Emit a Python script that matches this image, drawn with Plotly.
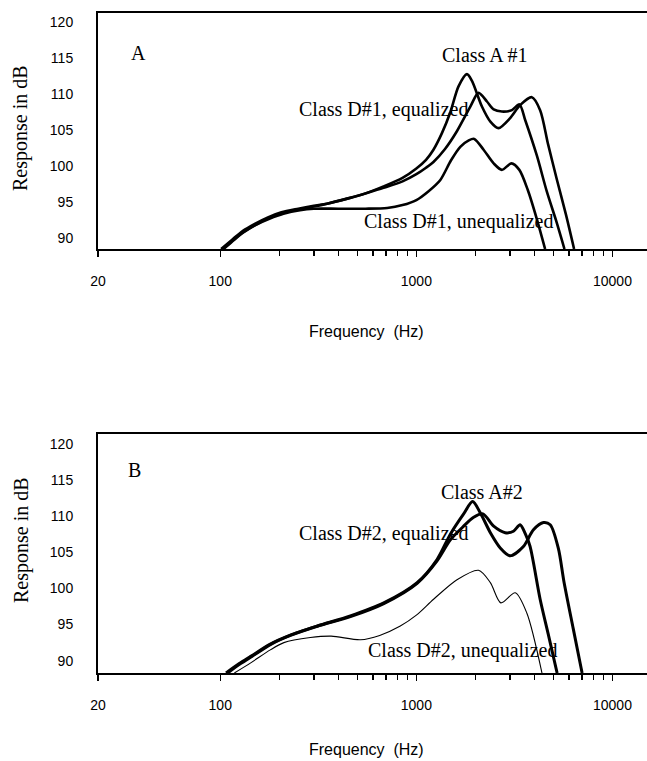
import plotly.graph_objects as go
from plotly.subplots import make_subplots
import math

# ---------------- Data: panel A ----------------
a1_freq = [101, 115, 130, 150, 175, 205, 250, 300, 350, 444, 560, 680, 850, 1000, 1120, 1222, 1350, 1490, 1640, 1811,
           1918, 2159, 2384, 2623, 3008, 3381, 3880, 4276, 4700, 5200, 5800, 6370]
a1_db = [88.5, 89.8, 91.0, 92.0, 92.9, 93.6, 94.1, 94.5, 94.8, 95.5, 96.3, 97.2, 98.4, 99.7, 100.9, 102.3, 104.6, 107.5, 111.1, 112.8,
         111.9, 108.3, 106.2, 105.3, 106.7, 108.5, 109.6, 107.8, 103.0, 98.2, 93.2, 88.5]

d1_eq_freq = [103, 117, 132, 152, 177, 208, 252, 300, 350, 444, 560, 680, 850, 1000, 1120, 1222, 1400, 1612, 1884,
              2075, 2290, 2478, 2729, 3070, 3355, 3591, 4113, 4624, 5150, 5690]
d1_eq_db = [88.5, 89.8, 90.9, 91.9, 92.8, 93.5, 94.0, 94.4, 94.8, 95.5, 96.3, 97.0, 97.9, 98.9, 99.8, 100.6, 102.4, 104.9, 108.3,
            110.2, 109.0, 107.9, 107.6, 107.8, 108.6, 106.4, 101.5, 96.5, 92.5, 88.5]

d1_un_freq = [104, 118, 133, 153, 178, 210, 255, 300, 400, 550, 710, 850, 1000, 1150, 1325, 1500, 1675, 1850,
              1972, 2202, 2478, 2729, 3052, 3350, 3700, 4100, 4534]
d1_un_db = [88.5, 89.8, 90.9, 91.9, 92.7, 93.4, 93.9, 94.1, 94.1, 94.1, 94.2, 94.6, 95.3, 96.5, 98.1, 100.8, 102.7, 103.6,
            103.8, 102.3, 100.4, 99.5, 100.4, 99.5, 96.7, 92.8, 88.5]

# ---------------- Data: panel B ----------------
a2_freq = [107, 125, 143, 180, 226, 313, 461, 682, 1009, 1275, 1490, 1742, 1935, 2123, 2384, 2677, 3006,
           3514, 3953, 4446, 4813, 5300, 5650, 6300, 7000]
a2_db = [88.3, 89.6, 90.6, 92.3, 93.5, 94.8, 96.2, 98.0, 100.8, 104.0, 107.5, 110.3, 112.0, 110.4, 107.7, 105.6, 104.5,
         105.8, 108.1, 109.1, 108.8, 105.5, 101.0, 94.5, 88.3]

d2_eq_freq = [109, 127, 145, 182, 228, 315, 461, 682, 1009, 1275, 1490, 1742, 1950, 2185, 2478, 2838, 3126,
              3381, 3600, 3800, 4276, 4700, 5220]
d2_eq_db = [88.3, 89.6, 90.6, 92.3, 93.5, 94.8, 96.1, 97.9, 100.7, 103.8, 106.7, 108.6, 109.8, 110.3, 108.6, 107.7, 107.9,
            108.8, 107.5, 105.8, 98.5, 93.7, 88.3]

d2_un_freq = [118, 143, 180, 211, 288, 368, 519, 650, 828, 1000, 1224, 1611, 2075, 2384, 2697, 3192, 3657, 4370]
d2_un_db = [88.3, 89.7, 91.5, 92.5, 93.2, 93.4, 92.9, 93.5, 94.8, 96.3, 98.5, 101.2, 102.5, 100.8, 98.0, 99.4, 96.6, 88.3]

x_tick_vals = [23.8, 100, 1000, 10000]
x_tick_text = ["20", "100", "1000", "10000"]
x_minor_vals = [200, 300, 400, 500, 600, 700, 800, 900, 2000, 3000, 4000, 5000, 6000, 7000, 8000, 9000]
y_tick_vals = [90, 95, 100, 105, 110, 115, 120]

W, H = 647, 761
L = 98

fig = make_subplots(rows=2, cols=1)

thick = dict(color="black", width=2.6, shape="spline", smoothing=0.8)
for f, d in [(a1_freq, a1_db), (d1_eq_freq, d1_eq_db), (d1_un_freq, d1_un_db)]:
    fig.add_trace(go.Scatter(x=f, y=d, mode="lines", line=thick, showlegend=False, hoverinfo="skip"), row=1, col=1)

thickB = dict(color="black", width=3.0, shape="spline", smoothing=0.8)
thinB = dict(color="black", width=1.1, shape="spline", smoothing=0.8)
fig.add_trace(go.Scatter(x=a2_freq, y=a2_db, mode="lines", line=thickB, showlegend=False, hoverinfo="skip"), row=2, col=1)
fig.add_trace(go.Scatter(x=d2_eq_freq, y=d2_eq_db, mode="lines", line=thickB, showlegend=False, hoverinfo="skip"), row=2, col=1)
fig.add_trace(go.Scatter(x=d2_un_freq, y=d2_un_db, mode="lines", line=thinB, showlegend=False, hoverinfo="skip"), row=2, col=1)

def py2paper(py):
    return (H - py) / H

def px2paper(px):
    return (px - L) / (W - L)

xr = [math.log10(23.8), 4.176]
tickfont = dict(family="Liberation Sans, Arial, sans-serif", size=14, color="black")
for i, (top, bot, yr) in enumerate([(13, 249, [88.5, 121.3]), (434, 673, [88.3, 121.35])], start=1):
    xa = "xaxis" if i == 1 else "xaxis2"
    ya = "yaxis" if i == 1 else "yaxis2"
    fig.layout[xa].update(
        type="log", range=xr, domain=[0, 1],
        tickvals=x_tick_vals, ticktext=x_tick_text, tickfont=tickfont,
        ticks="outside", ticklen=6, tickwidth=1.5, tickcolor="black",
        ticklabelstandoff=12,
        minor=dict(tickvals=x_minor_vals, ticks="outside", ticklen=5, tickwidth=1.5, tickcolor="black"),
        showline=True, linecolor="black", linewidth=2, mirror=True,
        showgrid=False, zeroline=False,
    )
    fig.layout[ya].update(
        range=yr, domain=[py2paper(bot), py2paper(top)],
        tickvals=y_tick_vals, tickfont=tickfont, ticks="", ticklabelstandoff=20,
        showline=True, linecolor="black", linewidth=2,
        showgrid=False, zeroline=False,
    )

serif = dict(family="Liberation Serif, Times New Roman, serif", size=20, color="black")
sans = dict(family="Liberation Sans, Arial, sans-serif", size=16, color="black")

labels = [
    ("A", 138, 53, serif),
    ("Class A #1", 485, 55, serif),
    ("Class D#1, equalized", 383, 110, serif),
    ("Class D#1, unequalized", 458, 222, serif),
    ("B", 134, 470, serif),
    ("Class A#2", 482, 492, serif),
    ("Class D#2, equalized", 383, 534, serif),
    ("Class D#2, unequalized", 462, 650, serif),
    ("Frequency  (Hz)", 366, 331, sans),
    ("Frequency  (Hz)", 366, 749, sans),
]
for txt, x, y, fnt in labels:
    fig.add_annotation(text=txt, x=px2paper(x), y=py2paper(y), xref="paper", yref="paper",
                       showarrow=False, font=fnt, xanchor="center", yanchor="middle")

for yc in [128, 540]:
    fig.add_annotation(text="Response in dB", x=px2paper(21), y=py2paper(yc), xref="paper", yref="paper",
                       showarrow=False, font=dict(family="Liberation Serif, Times New Roman, serif", size=20, color="black"),
                       textangle=-90, xanchor="center", yanchor="middle")

fig.update_layout(
    width=W, height=H,
    margin=dict(l=L, r=0, t=0, b=0, autoexpand=False),
    paper_bgcolor="white", plot_bgcolor="white",
    showlegend=False, hovermode=False,
)

fig.write_html("out.html", config={"displayModeBar": False, "staticPlot": True},
               post_script="document.body.style.margin='0px';document.body.style.overflow='hidden';")
